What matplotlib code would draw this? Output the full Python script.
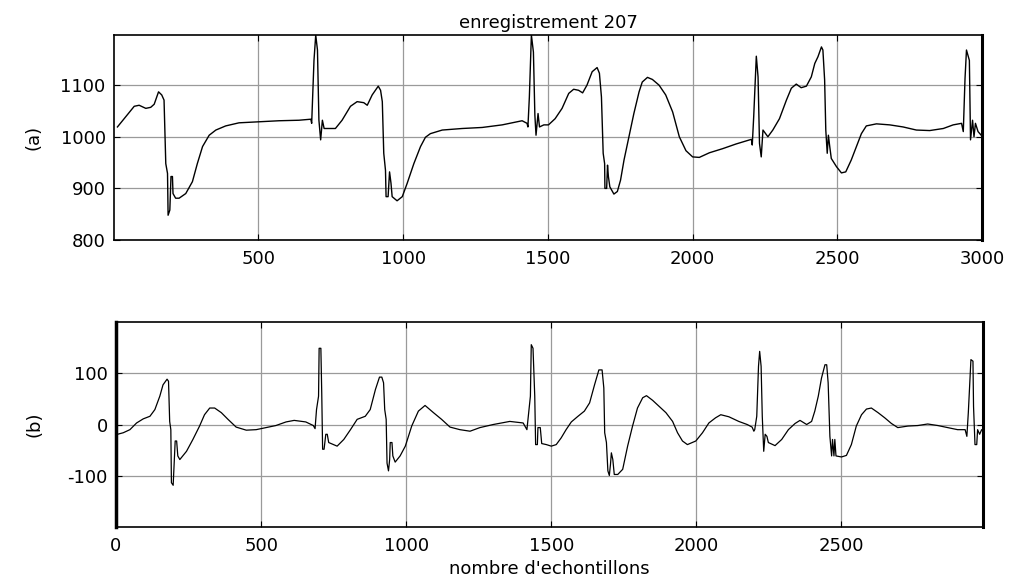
import numpy as np
import matplotlib.pyplot as plt

# signal (a): raw recording, samples
n_a = [13, 42, 71, 88, 111, 128, 140, 155, 166, 174, 180, 186, 188, 194, 198, 203, 205,
       214, 226, 249, 272, 289, 307, 330, 353, 387, 433, 502, 571, 640, 681, 684, 692,
       698, 704, 709, 715, 721, 727, 755,
       766, 789, 818, 841, 864, 876, 893, 914, 922, 928, 933, 939, 941, 948, 953, 958,
       962, 979, 997, 1014, 1037, 1060, 1077, 1094, 1135, 1204, 1273, 1342, 1411, 1428,
       1431, 1436, 1443, 1450, 1455, 1459, 1466, 1471, 1486,
       1502, 1525, 1549, 1572, 1589, 1606, 1620, 1635, 1653, 1670, 1678, 1685, 1691,
       1696, 1697, 1703, 1706, 1709, 1714, 1728, 1740, 1751, 1763, 1780, 1797, 1815,
       1826, 1844, 1861, 1884, 1907, 1931, 1954, 1977, 2000, 2023, 2058, 2104, 2150,
       2203, 2206, 2211, 2220, 2226, 2231, 2237, 2243, 2260, 2277, 2300, 2324, 2341,
       2358, 2375, 2393, 2410, 2422, 2433, 2445, 2450, 2456, 2460, 2465, 2469, 2473,
       2479, 2497, 2514, 2529, 2548, 2566, 2583, 2600, 2635, 2681, 2727, 2773, 2819,
       2866, 2900, 2929, 2935, 2941, 2946, 2956, 2960, 2967, 2972, 2977, 2986, 3000]
val_a = [1019, 1039, 1059, 1061, 1055, 1057, 1063, 1087, 1081, 1071, 948, 929, 848, 858,
         923, 923, 890, 881, 881, 890, 913, 948, 981, 1003, 1013, 1021, 1027, 1029, 1031,
         1032, 1034, 1026, 1148, 1197, 1168, 1032, 994, 1032, 1016, 1016,
         1016, 1032, 1059, 1068, 1066, 1061, 1081, 1098, 1090, 1068, 968, 935, 884, 884,
         932, 910, 884, 876, 884, 910, 948, 981, 999, 1006, 1013, 1016, 1018, 1023, 1031,
         1026, 1019, 1077, 1197, 1164, 1042, 1003, 1045, 1019, 1023,
         1023, 1035, 1055, 1084, 1092, 1090, 1085, 1100, 1126, 1134, 1123, 1077, 968,
         948, 900, 900, 945, 923, 903, 889, 894, 916, 955, 1000, 1045, 1087,
         1106, 1115, 1111, 1100, 1081, 1048, 1000, 973, 961, 960, 969, 977, 986,
         995, 984, 1039, 1156, 1116, 987, 961, 1013, 1000, 1013, 1035, 1071, 1094,
         1102, 1095, 1098, 1116, 1142, 1155, 1174, 1168, 1110, 1013, 968, 1003, 984,
         958, 942, 930, 932, 955, 981, 1006, 1021, 1025, 1023, 1019, 1013, 1012,
         1016, 1023, 1026, 1010, 1113, 1168, 1148, 994, 1032, 1000, 1026, 1010, 1001]

# signal (b): filtered version
n_b = [5, 25, 48, 71, 94, 117, 134, 151, 162, 176, 181, 185, 189, 191, 197, 200, 204,
       209, 213, 220, 243, 265, 288, 305, 323, 340, 363, 386, 414, 449, 483, 517, 551,
       586, 614, 654, 680, 686, 691, 698, 700, 706, 709, 712, 717, 723, 728, 733, 762,
       785, 808, 831, 859, 876, 894, 908, 916, 922, 926, 931, 934, 939, 943, 945, 951,
       954, 962, 979, 997, 1019, 1042, 1065, 1094, 1122, 1151, 1185, 1220, 1254, 1300,
       1357, 1403, 1416, 1423, 1428, 1431, 1437, 1443, 1446, 1452, 1454, 1462, 1467,
       1483, 1500, 1517, 1534, 1551, 1569, 1592, 1614, 1632, 1649, 1664, 1675, 1681,
       1684, 1690, 1695, 1700, 1704, 1707, 1712, 1717, 1729, 1746, 1763, 1780, 1797,
       1815, 1828, 1849, 1872, 1895, 1918, 1935, 1952, 1969, 1998, 2021, 2043, 2066,
       2084, 2112, 2146, 2175, 2192, 2198, 2201, 2208, 2214, 2218, 2223, 2227, 2232,
       2237, 2243, 2248, 2271, 2294, 2317, 2340, 2357, 2380, 2397, 2408, 2420, 2431,
       2443, 2449, 2454, 2460, 2466, 2469, 2474, 2477, 2481, 2500, 2517, 2534, 2551,
       2569, 2586, 2603, 2626, 2649, 2672, 2694, 2729, 2763, 2797, 2832, 2866, 2900,
       2926, 2932, 2937, 2941, 2946, 2953, 2955, 2960, 2966, 2969, 2976, 2983, 2990]
val_b = [-19, -16, -10, 3, 11, 16, 29, 55, 77, 88, 84, 6, -10, -113, -118, -81, -32,
         -32, -61, -68, -52, -29, -3, 19, 32, 32, 23, 10, -5, -11, -10, -6, -2,
         5, 8, 5, -2, -8, 29, 55, 148, 148, 61, -48, -48, -19, -19, -35, -42,
         -29, -10, 10, 16, 29, 68, 92, 92, 81, 29, 10, -75, -90, -68, -35, -35,
         -61, -73, -61, -42, -3, 26, 37, 23, 10, -5, -10, -13, -6, 0,
         6, 3, -10, 29, 55, 155, 148, 55, -39, -39, -6, -6, -37,
         -39, -42, -39, -26, -10, 5, 16, 26, 42, 77, 106, 106, 71,
         -16, -35, -90, -99, -77, -55, -68, -97, -97, -87, -42, -3, 32,
         52, 56, 47, 35, 23, 6, -16, -32, -39, -32, -16, 3, 13,
         19, 15, 6, 0, -5, -13, -10, 16, 113, 142, 113, 16, -52,
         -19, -23, -35, -41, -29, -10, 2, 8, 0, 6, 26, 55, 90,
         116, 116, 81, -23, -61, -29, -61, -29, -61, -63, -60, -39, -3,
         19, 30, 32, 23, 13, 2, -6, -3, -2, 1, -2, -6, -10,
         -10, -23, 23, 68, 126, 123, 35, -39, -39, -10, -19, -10, -13]

ticks_a_x = [500, 1000, 1500, 2000, 2500, 3000]
ticks_a_y = [800, 900, 1000, 1100]
ticks_b_x = [0, 500, 1000, 1500, 2000, 2500]
ticks_b_y = [-100, 0, 100]

plt.rcParams['font.family'] = ['DejaVu Sans']
plt.rcParams['font.size'] = 13
plt.rcParams['axes.unicode_minus'] = False

fig = plt.figure(figsize=(10.13, 5.84), dpi=100)
ax1 = fig.add_axes([0.1125, 0.589, 0.857, 0.351])
ax2 = fig.add_axes([0.1145, 0.0976, 0.856, 0.351])


def style(ax):
    ax.grid(True, color='#9a9a9a', linewidth=0.9)
    ax.set_axisbelow(True)
    ax.tick_params(direction='in', length=4, width=0.8, top=True, right=True,
                   labelsize=13, pad=6)
    ax.tick_params(axis='x', pad=7)
    for s in ax.spines.values():
        s.set_linewidth(1.2)


ax1.plot(n_a, val_a, color='black', linewidth=1.0)
ax1.set_xlim(1, 3000)
ax1.set_ylim(800, 1197)
ax1.set_xticks(ticks_a_x)
ax1.set_yticks(ticks_a_y)
style(ax1)
ax1.spines['right'].set_linewidth(2.2)
ax1.set_title("enregistrement 207", fontsize=13, pad=5)
ax1.set_ylabel("(a)", fontsize=13)
ax1.yaxis.set_label_coords(-0.082, 0.5)

ax2.plot(n_b, val_b, color='black', linewidth=0.9)
ax2.set_xlim(0, 2988)
ax2.set_ylim(-199, 199)
ax2.set_xticks(ticks_b_x)
ax2.set_yticks(ticks_b_y)
style(ax2)
ax2.spines['left'].set_linewidth(2.5)
ax2.spines['right'].set_linewidth(2.2)
ax2.set_ylabel("(b)", fontsize=13)
ax2.yaxis.set_label_coords(-0.084, 0.5)
ax2.set_xlabel("nombre d'echontillons", fontsize=13)
ax2.xaxis.set_label_coords(0.5, -0.16)

plt.savefig('out.png', dpi=100)
